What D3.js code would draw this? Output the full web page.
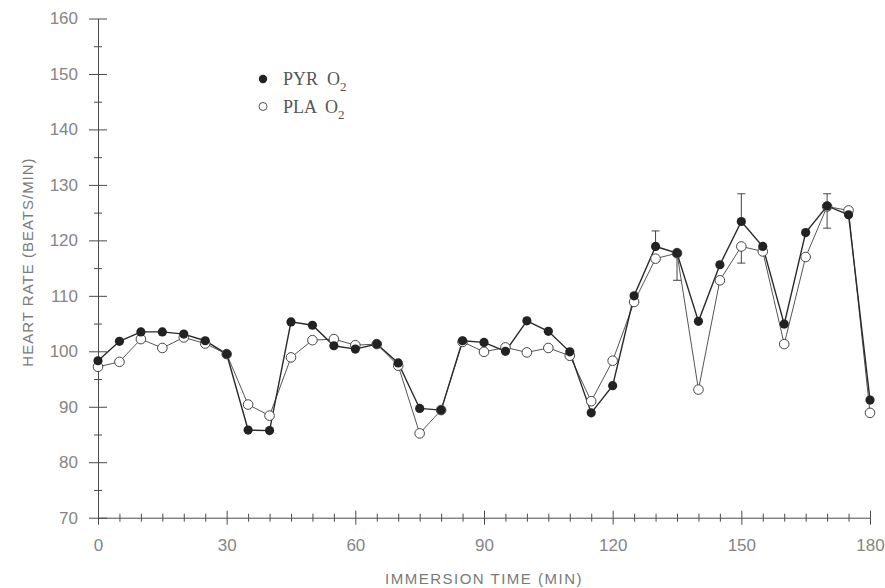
<!DOCTYPE html>
<html>
<meta charset="utf-8" />
<script src="https://d3js.org/d3.v7.min.js"></script>
<style>
  body { margin: 0; background: #ffffff; }
  .tick text { font-family: "Liberation Sans", Arial, sans-serif; font-size: 17px; fill: #858585; }
  .axis path, .axis line { stroke: #4a4a4a; stroke-width: 1; }
</style>
<body>
<div id="my_dataviz"></div>
<script>
// immersion time (min)
var times = d3.range(0, 181, 5);
// heart rate, pyruvate + O2 (filled)
var pyr = [98.3, 101.8, 103.5, 103.5, 103.1, 101.9, 99.5, 85.8, 85.7, 105.3,
           104.7, 101.0, 100.4, 101.3, 97.9, 89.7, 89.4, 101.9, 101.6, 100.0,
           105.5, 103.6, 99.9, 88.9, 93.8, 110.0, 118.9, 117.7, 105.4, 115.6,
           123.4, 118.9, 104.9, 121.4, 126.2, 124.6, 91.2];
// heart rate, placebo + O2 (open)
var pla = [97.2, 98.1, 102.2, 100.6, 102.5, 101.4, 99.5, 90.4, 88.4, 98.9,
           102.0, 102.2, 101.1, 101.3, 97.4, 85.2, 89.4, 101.7, 99.9, 100.7,
           99.8, 100.6, 99.2, 91.0, 98.3, 108.9, 116.7, 117.7, 93.1, 112.8,
           118.9, 118.0, 101.3, 117.0, 126.1, 125.4, 88.9];
// one-sided error bars (SE)
var pyrErrTimes = [130, 150, 170];
var pyrErrUp = [2.8, 5.0, 2.2];
var plaErrTimes = [135, 150, 170];
var plaErrDown = [4.9, 3.0, 3.9];

var xMajor = d3.range(0, 181, 30);
var xMinor = d3.range(5, 180, 5).filter(function(d) { return d % 30 !== 0; });
var yMajor = d3.range(70, 161, 10);
var yMinor = d3.range(75, 160, 10);

var width = 885, height = 588;
var svg = d3.select("#my_dataviz")
  .append("svg")
    .attr("width", width)
    .attr("height", height);

var x = d3.scaleLinear().domain([0, 180]).range([98, 870]);
var y = d3.scaleLinear().domain([70, 160]).range([517.7, 18.5]);

// y axis: ticks crossing the line
svg.append("g").attr("class", "axis")
  .attr("transform", "translate(98,0)")
  .call(d3.axisLeft(y).tickValues(yMajor).tickSize(9).tickPadding(11).tickSizeOuter(0));
svg.append("g").attr("class", "axis")
  .attr("transform", "translate(98,0)")
  .call(d3.axisRight(y).tickValues(yMajor).tickSize(9).tickFormat("").tickSizeOuter(0))
  .select(".domain").remove();
svg.append("g").attr("class", "axis")
  .attr("transform", "translate(98,0)")
  .call(d3.axisLeft(y).tickValues(yMinor).tickSize(4).tickFormat(""))
  .select(".domain").remove();
svg.append("g").attr("class", "axis")
  .attr("transform", "translate(98,0)")
  .call(d3.axisRight(y).tickValues(yMinor).tickSize(4).tickFormat(""))
  .select(".domain").remove();

// x axis
svg.append("g").attr("class", "axis")
  .attr("transform", "translate(0,517.7)")
  .call(d3.axisBottom(x).tickValues(xMajor).tickSize(7).tickPadding(14).tickSizeOuter(0));
svg.append("g").attr("class", "axis")
  .attr("transform", "translate(0,517.7)")
  .call(d3.axisTop(x).tickValues(xMajor).tickSize(7).tickFormat(""))
  .select(".domain").remove();
svg.append("g").attr("class", "axis")
  .attr("transform", "translate(0,517.7)")
  .call(d3.axisBottom(x).tickValues(xMinor).tickSize(4).tickFormat(""))
  .select(".domain").remove();
svg.append("g").attr("class", "axis")
  .attr("transform", "translate(0,517.7)")
  .call(d3.axisTop(x).tickValues(xMinor).tickSize(4).tickFormat(""))
  .select(".domain").remove();

// axis titles
svg.append("text")
  .attr("x", 484).attr("y", 584)
  .attr("text-anchor", "middle")
  .attr("font-family", "Liberation Sans, Arial, sans-serif")
  .attr("font-size", 15)
  .attr("letter-spacing", 1.5)
  .attr("fill", "#7a7a7a")
  .text("IMMERSION TIME (MIN)");

svg.append("text")
  .attr("transform", "translate(33,262) rotate(-90)")
  .attr("text-anchor", "middle")
  .attr("font-family", "Liberation Sans, Arial, sans-serif")
  .attr("font-size", 15)
  .attr("letter-spacing", 1)
  .attr("fill", "#7a7a7a")
  .text("HEART RATE (BEATS/MIN)");

// lines
var line = d3.line()
  .x(function(d) { return x(d.t); })
  .y(function(d) { return y(d.v); });

var pyrData = times.map(function(t, i) { return {t: t, v: pyr[i]}; });
var plaData = times.map(function(t, i) { return {t: t, v: pla[i]}; });

svg.append("path")
  .datum(plaData)
  .attr("fill", "none")
  .attr("stroke", "#555")
  .attr("stroke-width", 1)
  .attr("d", line);

svg.append("path")
  .datum(pyrData)
  .attr("fill", "none")
  .attr("stroke", "#2a2a2a")
  .attr("stroke-width", 1.4)
  .attr("d", line);

// error bars
function errBar(t, v, e) {
  var g = svg.append("g").attr("stroke", "#444").attr("stroke-width", 1);
  g.append("line").attr("x1", x(t)).attr("x2", x(t)).attr("y1", y(v)).attr("y2", y(v + e));
  g.append("line").attr("x1", x(t) - 4).attr("x2", x(t) + 4).attr("y1", y(v + e)).attr("y2", y(v + e));
}
pyrErrTimes.forEach(function(t, i) { errBar(t, pyr[times.indexOf(t)], pyrErrUp[i]); });
plaErrTimes.forEach(function(t, i) { errBar(t, pla[times.indexOf(t)], -plaErrDown[i]); });

// markers
svg.append("g").selectAll("circle")
  .data(plaData)
  .enter()
  .append("circle")
  .attr("cx", function(d) { return x(d.t); })
  .attr("cy", function(d) { return y(d.v); })
  .attr("r", 4.8)
  .attr("fill", "#fff")
  .attr("stroke", "#444")
  .attr("stroke-width", 1);

svg.append("g").selectAll("circle")
  .data(pyrData)
  .enter()
  .append("circle")
  .attr("cx", function(d) { return x(d.t); })
  .attr("cy", function(d) { return y(d.v); })
  .attr("r", 4.6)
  .attr("fill", "#222");

// legend
var legend = [{name: "PYR O", y: 79, filled: true}, {name: "PLA O", y: 106.5, filled: false}];
var lg = svg.append("g").selectAll("g")
  .data(legend)
  .enter()
  .append("g");
lg.append("circle")
  .attr("cx", 263).attr("cy", function(d) { return d.y; })
  .attr("r", function(d) { return d.filled ? 4.2 : 4; })
  .attr("fill", function(d) { return d.filled ? "#222" : "#fff"; })
  .attr("stroke", "#555")
  .attr("stroke-width", function(d) { return d.filled ? 0 : 1; });
var lt = lg.append("text")
  .attr("x", 283).attr("y", function(d) { return d.y + 6; })
  .attr("font-family", "Liberation Serif, Times New Roman, serif")
  .attr("font-size", 18)
  .attr("fill", "#555")
  .attr("xml:space", "preserve");
lt.append("tspan").text(function(d) { return d.name.replace(" O", "  O"); });
lt.append("tspan").attr("dy", 6).attr("font-size", 13).text("2");
</script>
</body>
</html>
